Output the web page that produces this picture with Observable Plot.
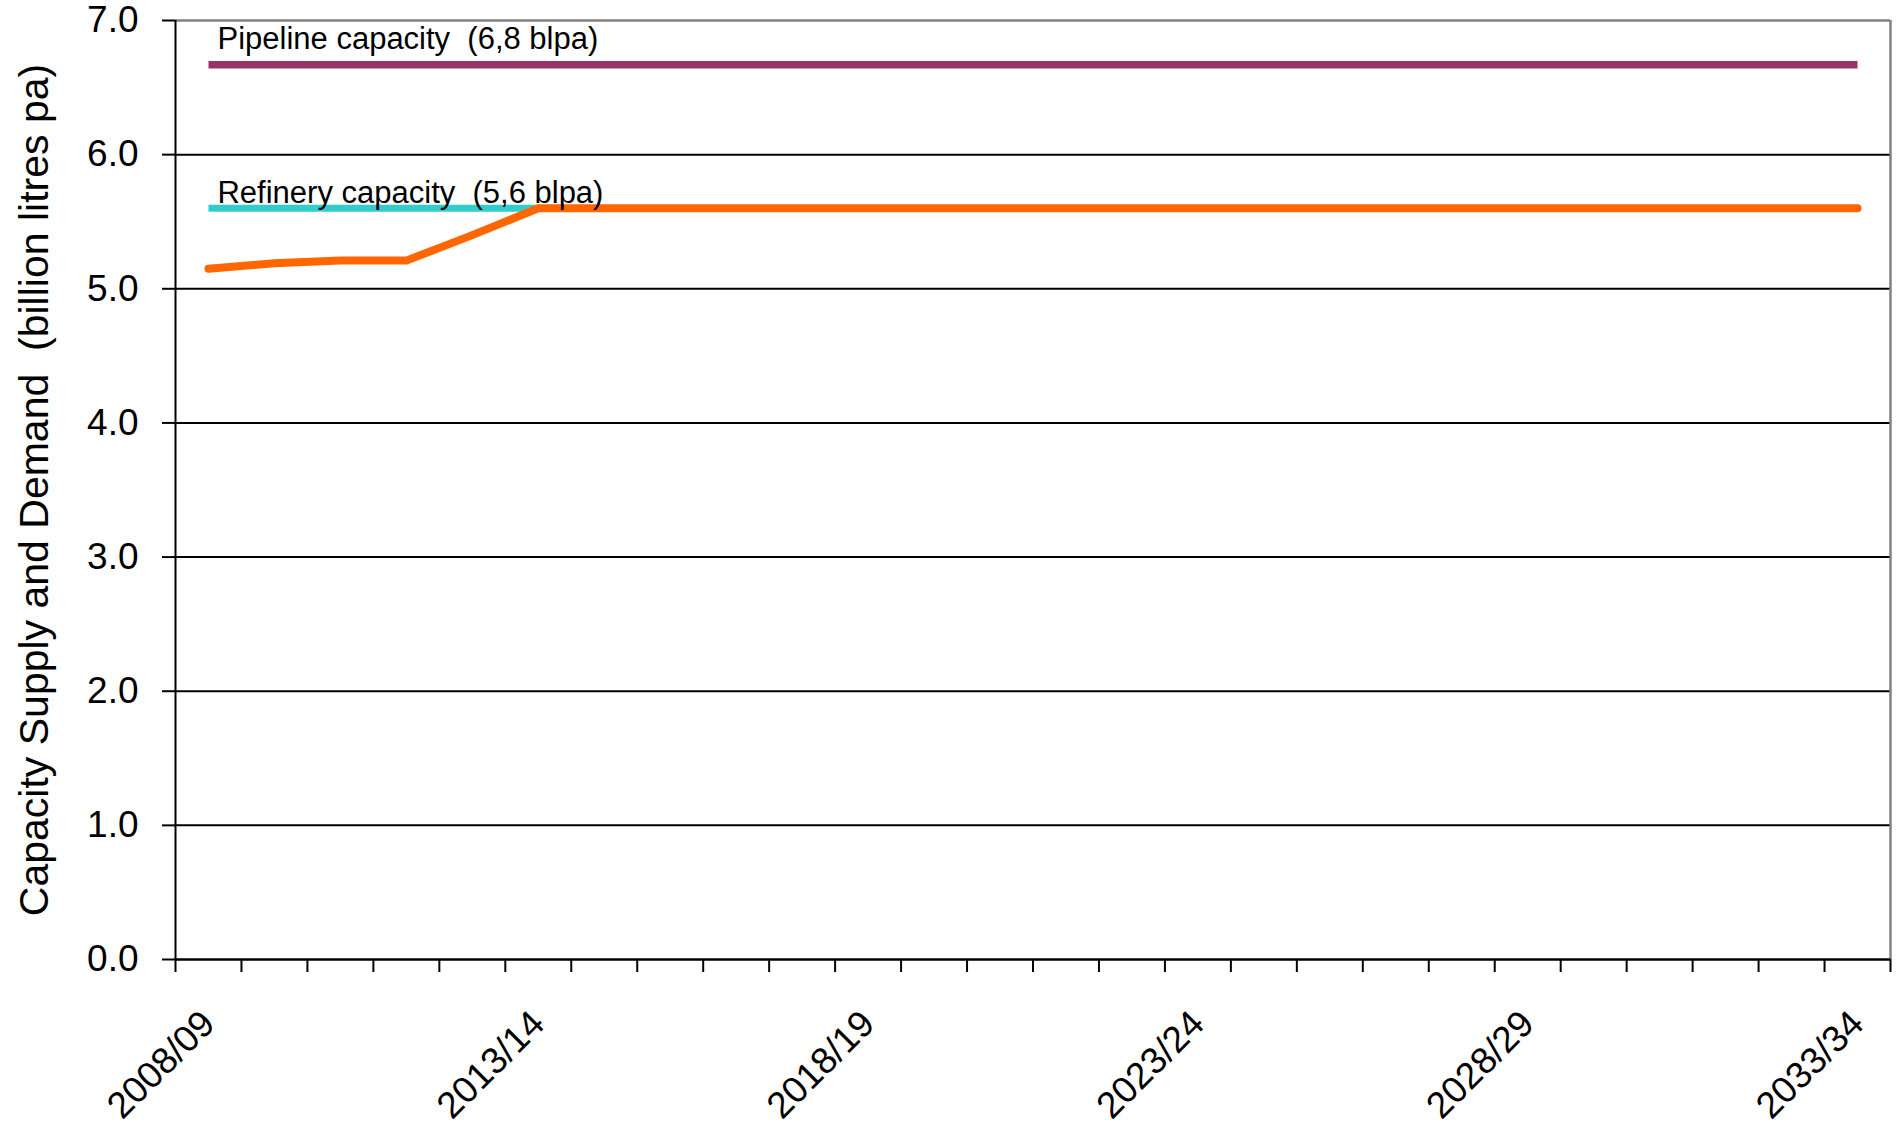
<!DOCTYPE html>
<html>
<head>
<meta charset="utf-8">
<script src="https://cdn.jsdelivr.net/npm/d3@7"></script>
<script src="https://cdn.jsdelivr.net/npm/@observablehq/plot@0.6"></script>
<style>
  html, body { margin: 0; padding: 0; background: #ffffff; }
  #chart svg { display: block; }
</style>
</head>
<body>
<div id="chart"></div>
<script>
// ---- data ----
const categories = ["2008/09","2009/10","2010/11","2011/12","2012/13","2013/14","2014/15","2015/16","2016/17","2017/18",
  "2018/19","2019/20","2020/21","2021/22","2022/23","2023/24","2024/25","2025/26","2026/27","2027/28",
  "2028/29","2029/30","2030/31","2031/32","2032/33","2033/34"];
const demand = [5.15, 5.19, 5.21, 5.21, 5.40, 5.60, 5.60, 5.60, 5.60, 5.60,
  5.60, 5.60, 5.60, 5.60, 5.60, 5.60, 5.60, 5.60, 5.60, 5.60,
  5.60, 5.60, 5.60, 5.60, 5.60, 5.60];
const pipelineCapacity = [6.67, 6.67, 6.67, 6.67, 6.67, 6.67, 6.67, 6.67, 6.67, 6.67,
  6.67, 6.67, 6.67, 6.67, 6.67, 6.67, 6.67, 6.67, 6.67, 6.67,
  6.67, 6.67, 6.67, 6.67, 6.67, 6.67];
const refineryCapacity = [5.6, 5.6, 5.6, 5.6, 5.6, 5.6];
const yTicks = [0, 1, 2, 3, 4, 5, 6, 7];
const labelledCategories = ["2008/09", "2013/14", "2018/19", "2023/24", "2028/29", "2033/34"];
const pipelineLabel = "Pipeline capacity  (6,8 blpa)";
const refineryLabel = "Refinery capacity  (5,6 blpa)";
const yTitle = "Capacity Supply and Demand  (billion litres pa)";

// ---- derived tables ----
const idx = c => categories.indexOf(c);
const demandData = demand.map((v, i) => ({i, v}));
const pipelineData = pipelineCapacity.map((v, i) => ({i, v}));
const refineryData = refineryCapacity.map((v, i) => ({i, v}));
const boundaries = d3.range(-0.5, categories.length, 1);
const labelTicks = labelledCategories.map(idx);

const font = "'Liberation Sans', Arial, sans-serif";

const chart = Plot.plot({
  width: 1896,
  height: 1125,
  marginLeft: 175,
  marginRight: 6,
  marginTop: 20,
  marginBottom: 166,
  style: {fontFamily: font, background: "#ffffff", color: "#000"},
  x: {type: "linear", domain: [-0.5, categories.length - 0.5]},
  y: {domain: [0, 7]},
  marks: [
    // gridlines
    Plot.ruleY(yTicks.filter(t => t > 0 && t < 7), {stroke: "#000", strokeWidth: 2}),
    // plot-area border (top, right)
    Plot.ruleY([7], {stroke: "#808080", strokeWidth: 2.5}),
    Plot.ruleX([categories.length - 0.5], {stroke: "#808080", strokeWidth: 2.5}),
    // y axis
    Plot.axisY({ticks: yTicks, tickFormat: d3.format(".1f"), tickSize: 13, tickPadding: 24,
      fontSize: 37, stroke: "#000", strokeWidth: 2, label: null}),
    Plot.ruleX([-0.5], {stroke: "#000", strokeWidth: 2}),
    // x axis: boundary ticks
    Plot.axisX({ticks: boundaries, tickFormat: () => "", tickSize: 13, stroke: "#000", strokeWidth: 2, label: null}),
    Plot.axisX({ticks: labelTicks, tickFormat: i => categories[i], tickSize: 0, tickPadding: 58,
      tickRotate: -45, fontSize: 37, label: null}),
    Plot.ruleY([0], {stroke: "#000", strokeWidth: 2.5}),
    // y title
    Plot.text([yTitle], {frameAnchor: "left", dx: -141, rotate: -90, textAnchor: "middle", fontSize: 41, fill: "#000"}),
    // series
    Plot.line(pipelineData, {x: "i", y: "v", stroke: "#993366", strokeWidth: 7.5, strokeLinecap: "butt"}),
    Plot.line(refineryData, {x: "i", y: "v", stroke: "#33CCCC", strokeWidth: 7, strokeLinecap: "butt"}),
    Plot.line(demandData, {x: "i", y: "v", stroke: "#FF6600", strokeWidth: 8, strokeLinecap: "round", strokeLinejoin: "round"}),
    // annotations
    Plot.text([pipelineLabel], {x: 0, y: 6.67, dx: 9, dy: -16, textAnchor: "start", lineAnchor: "bottom", fontSize: 31, fill: "#000"}),
    Plot.text([refineryLabel], {x: 0, y: 5.6, dx: 9, dy: -5, textAnchor: "start", lineAnchor: "bottom", fontSize: 31, fill: "#000"})
  ]
});
document.getElementById("chart").appendChild(chart);
</script>
</body>
</html>
